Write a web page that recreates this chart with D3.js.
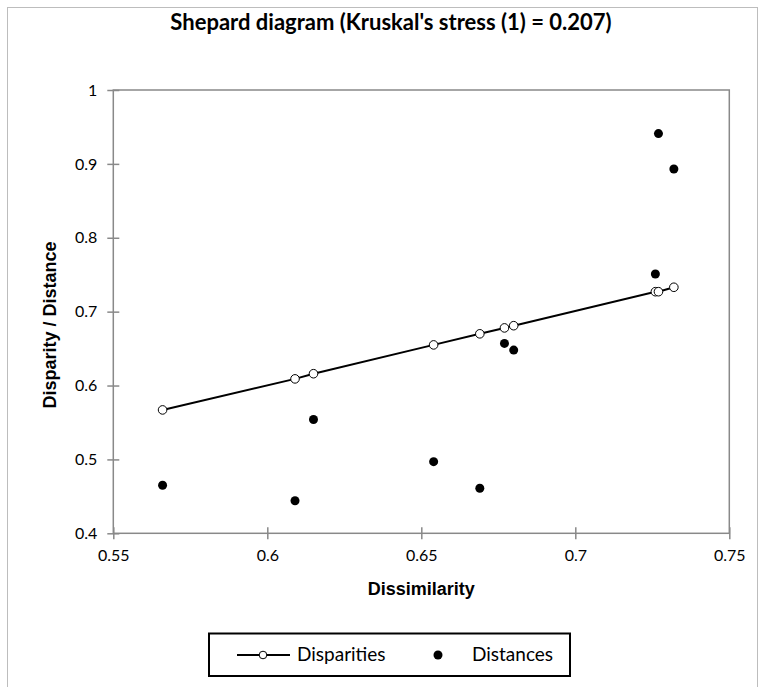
<!DOCTYPE html>
<html>
<head>
<meta charset="utf-8">
<script src="https://cdn.jsdelivr.net/npm/d3@7"></script>
<style>
  body { margin: 0; background: #fff; }
  svg { display: block; }
  .tick text { font-family: Lato, "Liberation Sans", sans-serif; font-size: 16px; fill: #000; }
</style>
</head>
<body>
<div id="chart"></div>
<script>
// dissimilarity (x) and the two series
var dissimilarity = [0.566, 0.609, 0.615, 0.654, 0.669, 0.677, 0.680, 0.726, 0.727, 0.732];
var disparities   = [0.567, 0.609, 0.616, 0.655, 0.670, 0.678, 0.681, 0.727, 0.727, 0.733];
var distances     = [0.465, 0.444, 0.554, 0.497, 0.461, 0.657, 0.648, 0.751, 0.941, 0.893];

var xTicks = [0.55, 0.6, 0.65, 0.7, 0.75];
var yTicks = [0.4, 0.5, 0.6, 0.7, 0.8, 0.9, 1];

var W = 767, H = 687;
var plotL = 113.3, plotR = 729.3, plotT = 90, plotB = 533.3;

var svg = d3.select("#chart").append("svg")
    .attr("width", W)
    .attr("height", H);

// outer chart border
svg.append("rect")
    .attr("x", 7.5).attr("y", 7.5)
    .attr("width", 750).attr("height", 700)
    .attr("fill", "none")
    .attr("stroke", "#bdbdbd")
    .attr("stroke-width", 1);

var x = d3.scaleLinear().domain([0.55, 0.75]).range([plotL, plotR]);
var y = d3.scaleLinear().domain([0.4, 1]).range([plotB, plotT]);

// plot frame
svg.append("rect")
    .attr("x", plotL).attr("y", plotT)
    .attr("width", plotR - plotL).attr("height", plotB - plotT)
    .attr("fill", "none")
    .attr("stroke", "#898989")
    .attr("stroke-width", 1.5);

// x axis, ticks crossing the line
var gx = svg.append("g")
    .attr("transform", "translate(0," + plotB + ")")
    .call(d3.axisBottom(x).tickValues(xTicks).tickSizeInner(6).tickSizeOuter(0)
        .tickFormat(function (d) { return String(+d.toFixed(2)); }));
gx.select(".domain").remove();
gx.selectAll(".tick line").attr("y1", -6).attr("stroke", "#898989").attr("stroke-width", 1.5);
gx.selectAll(".tick text").attr("y", 16);

var gy = svg.append("g")
    .attr("transform", "translate(" + plotL + ",0)")
    .call(d3.axisLeft(y).tickValues(yTicks).tickSizeInner(6).tickSizeOuter(0)
        .tickFormat(function (d) { return String(+d.toFixed(1)); }));
gy.select(".domain").remove();
gy.selectAll(".tick line").attr("x1", 6).attr("stroke", "#898989").attr("stroke-width", 1.5);
gy.selectAll(".tick text").attr("x", -16);

// title
svg.append("text")
    .attr("x", 391).attr("y", 30)
    .attr("text-anchor", "middle")
    .attr("font-family", "Lato, 'Liberation Sans', sans-serif")
    .attr("font-weight", "bold")
    .attr("font-size", "22px")
    .text("Shepard diagram (Kruskal's stress (1) = 0.207)");

// axis titles
svg.append("text")
    .attr("x", 421.3).attr("y", 595)
    .attr("text-anchor", "middle")
    .attr("font-family", "'Liberation Sans', Arial, sans-serif")
    .attr("font-weight", "bold")
    .attr("font-size", "18px")
    .text("Dissimilarity");

svg.append("text")
    .attr("transform", "translate(56,325) rotate(-90)")
    .attr("text-anchor", "middle")
    .attr("font-family", "'Liberation Sans', Arial, sans-serif")
    .attr("font-weight", "bold")
    .attr("font-size", "18px")
    .text("Disparity / Distance");

var pts = dissimilarity.map(function (d, i) {
    return { x: d, disp: disparities[i], dist: distances[i] };
});

// disparities line
var line = d3.line()
    .x(function (d) { return x(d.x); })
    .y(function (d) { return y(d.disp); });

svg.append("path")
    .datum(pts)
    .attr("fill", "none")
    .attr("stroke", "#000")
    .attr("stroke-width", 2)
    .attr("d", line);

// distances
svg.selectAll(".dist")
    .data(pts)
    .enter().append("circle")
    .attr("class", "dist")
    .attr("cx", function (d) { return x(d.x); })
    .attr("cy", function (d) { return y(d.dist); })
    .attr("r", 4.5)
    .attr("fill", "#000");

// disparities markers
svg.selectAll(".disp")
    .data(pts)
    .enter().append("circle")
    .attr("class", "disp")
    .attr("cx", function (d) { return x(d.x); })
    .attr("cy", function (d) { return y(d.disp); })
    .attr("r", 4.3)
    .attr("fill", "#fff")
    .attr("stroke", "#000")
    .attr("stroke-width", 1);

// legend
var lg = svg.append("g");
lg.append("rect")
    .attr("x", 209).attr("y", 633.5)
    .attr("width", 361).attr("height", 42.5)
    .attr("fill", "#fff")
    .attr("stroke", "#000")
    .attr("stroke-width", 2);
lg.append("line")
    .attr("x1", 237).attr("x2", 290)
    .attr("y1", 655).attr("y2", 655)
    .attr("stroke", "#000").attr("stroke-width", 2);
lg.append("circle")
    .attr("cx", 263).attr("cy", 655).attr("r", 3.8)
    .attr("fill", "#fff").attr("stroke", "#000").attr("stroke-width", 1);
lg.append("circle")
    .attr("cx", 438).attr("cy", 655).attr("r", 4.5)
    .attr("fill", "#000");
lg.append("text")
    .attr("x", 297).attr("y", 661)
    .attr("font-family", "Lato, 'Liberation Sans', sans-serif")
    .attr("font-size", "19px")
    .text("Disparities");
lg.append("text")
    .attr("x", 472).attr("y", 661)
    .attr("font-family", "Lato, 'Liberation Sans', sans-serif")
    .attr("font-size", "19px")
    .text("Distances");
</script>
</body>
</html>
